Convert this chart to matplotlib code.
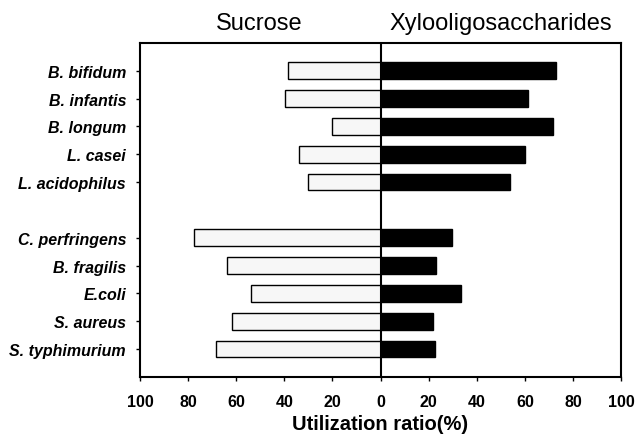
import matplotlib.pyplot as plt
import numpy as np

plt.rcParams['font.family'] = ['Liberation Sans', 'DejaVu Sans']

labels = ["B. bifidum", "B. infantis", "B. longum", "L. casei", "L. acidophilus",
          "C. perfringens", "B. fragilis", "E.coli", "S. aureus", "S. typhimurium"]
sucrose = [38.5, 39.6, 20.0, 33.8, 30.3, 77.4, 63.7, 53.8, 61.7, 68.3]
xylo = [72.8, 61.3, 71.9, 60.2, 53.8, 29.7, 23.1, 33.3, 21.7, 22.8]
ticks = [-100, -80, -60, -40, -20, 0, 20, 40, 60, 80, 100]

# two groups with an empty slot in between
pos = np.array([0, 1, 2, 3, 4, 6, 7, 8, 9, 10])

fig = plt.figure(figsize=(6.38, 4.39), dpi=100)
ax = fig.add_axes([0.2194, 0.139, 0.754, 0.761])

ax.barh(pos, -np.array(sucrose), height=0.6, color='#f7f7f7',
        edgecolor='black', linewidth=1.0)
ax.barh(pos, xylo, height=0.6, color='black', edgecolor='black', linewidth=1.0)
ax.axvline(0, color='black', linewidth=1.5)

ax.set_xlim(-100, 100)
ax.set_ylim(11, -1)
ax.set_yticks(pos)
ax.set_yticklabels(labels, fontsize=11.5, fontweight='bold', style='italic')
ax.set_xticks(ticks)
ax.set_xticklabels([str(abs(t)) for t in ticks], fontsize=11.5, fontweight='bold')
ax.tick_params(axis='both', direction='out', length=3, width=1)
ax.tick_params(axis='x', pad=9.5)
ax.tick_params(axis='y', pad=7)
ax.set_xlabel("Utilization ratio(%)", fontsize=14.5, fontweight='bold', labelpad=3)
for s in ax.spines.values():
    s.set_linewidth(1.5)

fig.text(0.4067, 0.932, "Sucrose", fontsize=17, ha='center', va='baseline')
fig.text(0.785, 0.932, "Xylooligosaccharides", fontsize=17, ha='center', va='baseline')

fig.savefig("out.png", dpi=100)
